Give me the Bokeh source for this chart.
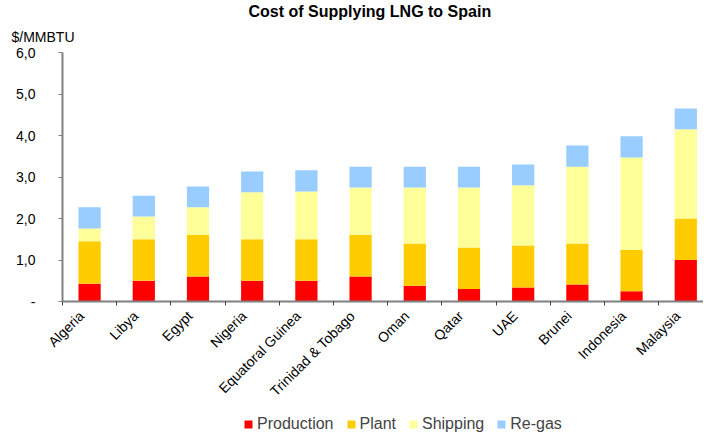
import math
from bokeh.plotting import figure
from bokeh.layouts import column
from bokeh.models import (Range1d, FixedTicker, Legend, LegendItem, Title)
from bokeh.embed import file_html
from bokeh.resources import INLINE

countries = ["Algeria", "Libya", "Egypt", "Nigeria", "Equatoral Guinea",
             "Trinidad & Tobago", "Oman", "Qatar", "UAE", "Brunei",
             "Indonesia", "Malaysia"]
production = [0.43, 0.50, 0.60, 0.50, 0.50, 0.60, 0.38, 0.30, 0.34, 0.41, 0.25, 1.00]
plant = [1.02, 1.00, 1.00, 1.00, 1.00, 1.00, 1.02, 1.00, 1.01, 0.99, 1.00, 1.00]
shipping = [0.31, 0.55, 0.67, 1.13, 1.15, 1.15, 1.35, 1.45, 1.45, 1.85, 2.22, 2.15]
regas = [0.51, 0.50, 0.50, 0.50, 0.51, 0.50, 0.50, 0.50, 0.50, 0.51, 0.51, 0.50]
series_names = ["Production", "Plant", "Shipping", "Re-gas"]
colors = ["#FF0000", "#FFCC00", "#FFFF99", "#99CCFF"]
y_ticks = [0, 1, 2, 3, 4, 5, 6]
y_labels = ["-", "1,0", "2,0", "3,0", "4,0", "5,0", "6,0"]

FONT = "Liberation Sans"
n = len(countries)
xs = [i + 0.5 for i in range(n)]
label_pos = [x - 0.15 for x in xs]
series = [production, plant, shipping, regas]
x_range = Range1d(0, 11.827)

p = figure(frame_width=641, frame_height=249, output_backend="svg",
           toolbar_location=None, x_range=x_range, y_range=Range1d(0, 6),
           min_border_left=62, min_border_right=0, min_border_top=52,
           min_border_bottom=0)
p.outline_line_color = None
p.xgrid.visible = False
p.ygrid.visible = False

p.title.text = "Cost of Supplying LNG to Spain"
p.title.align = "left"
p.title.offset = 186
p.title.text_font = FONT
p.title.text_font_size = "16px"
p.title.text_font_style = "bold"
p.title.text_color = "#000000"
p.title.standoff = 0

unit = Title(text="$/MMBTU", align="left", offset=-51, text_font=FONT,
             text_font_size="14px", text_font_style="normal",
             text_color="#000000", standoff=15)
p.add_layout(unit, "above")

bottom = [0.0] * n
for vals, col in zip(series, colors):
    top = [b + v for b, v in zip(bottom, vals)]
    p.vbar(x=xs, bottom=bottom, top=top, width=0.41, fill_color=col,
           line_color=None)
    bottom = top

# y axis
ya = p.yaxis[0]
ya.ticker = FixedTicker(ticks=y_ticks, minor_ticks=[])
ya.major_label_overrides = {t: l for t, l in zip(y_ticks, y_labels)}
ya.axis_line_color = "#808080"
ya.axis_line_width = 2
ya.major_tick_line_color = "#808080"
ya.major_tick_out = 4
ya.major_tick_in = 0
ya.minor_tick_line_color = None
ya.major_label_text_font = FONT
ya.major_label_text_font_size = "14px"
ya.major_label_text_color = "#000000"
ya.major_label_standoff = 23

# x axis: labels near category centers, minor ticks at category boundaries
xa = p.xaxis[0]
xa.ticker = FixedTicker(ticks=label_pos, minor_ticks=list(range(n + 1)))
xa.major_label_overrides = {x: c for x, c in zip(label_pos, countries)}
xa.major_label_orientation = math.pi / 4
xa.axis_line_color = "#808080"
xa.axis_line_width = 2
xa.major_tick_line_color = None
xa.major_tick_out = 4
xa.major_tick_in = 0
xa.minor_tick_line_color = "#404040"
xa.minor_tick_out = 4
xa.minor_tick_in = 0
xa.major_label_text_font = FONT
xa.major_label_text_font_size = "14px"
xa.major_label_text_color = "#000000"
xa.major_label_standoff = 8

# ---- legend strip: same series drawn out of view, legend inside the frame ----
p2 = figure(frame_width=641, frame_height=30, output_backend="svg",
            toolbar_location=None, x_range=x_range, y_range=Range1d(100, 101),
            x_axis_location=None, y_axis_location=None, title_location=None,
            min_border_left=62, min_border_right=0, min_border_top=0,
            min_border_bottom=0)
p2.outline_line_color = None
p2.xgrid.visible = False
p2.ygrid.visible = False

items = []
bottom = [0.0] * n
for name, vals, col in zip(series_names, series, colors):
    top = [b + v for b, v in zip(bottom, vals)]
    r = p2.vbar(x=xs, bottom=bottom, top=top, width=0.41, fill_color=col,
                line_color=None)
    items.append(LegendItem(label=name, renderers=[r]))
    bottom = top

legend = Legend(items=items, orientation="horizontal", location=(181, 4),
                border_line_color=None, background_fill_alpha=0,
                label_text_font=FONT, label_text_font_size="16px",
                glyph_width=10, glyph_height=10, label_standoff=4,
                spacing=12, padding=0, margin=0, label_height=16)
p2.add_layout(legend, "center")

layout = column(p, p2, spacing=0)
open("out.html", "w").write(file_html(layout, INLINE))
